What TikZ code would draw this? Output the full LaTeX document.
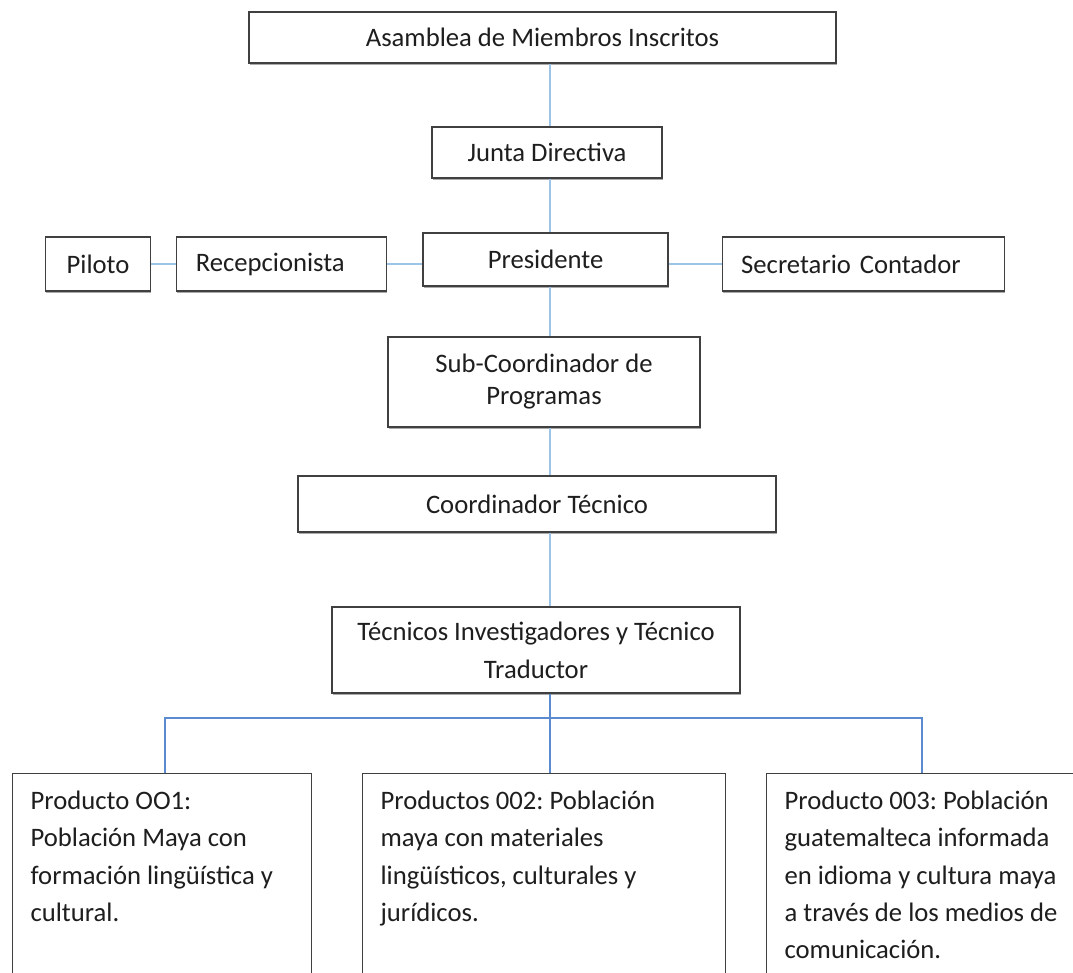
\documentclass[tikz,border=0pt]{standalone}
\usepackage{fontspec}
\setmainfont{Carlito}
\frenchspacing
\usetikzlibrary{positioning, calc, shadows}
\definecolor{clBoxBd}  {RGB}{ 64, 64, 64}
\definecolor{clText}   {RGB}{ 30, 30, 30}
\definecolor{clShadow} {RGB}{170,170,170}
\definecolor{clLink}   {RGB}{157,195,230}
\definecolor{clLinkDk} {RGB}{ 91,139,206}
\newcommand{\orgfont}{\fontsize{20}{24}\selectfont}
\newcommand{\prodfont}{\fontsize{20}{28}\selectfont}
\tikzset{
  base/.style={
    align=center, font=\orgfont, text=clText,
    draw=clBoxBd, line width=0.9pt, fill=white,
    drop shadow={shadow xshift=0.4pt, shadow yshift=-1.3pt, fill=clShadow, opacity=1}
  },
  orgbox/.style={
    base, rectangle, inner sep=0pt
  },
  sidebox/.style={
    base, rectangle, align=left, inner xsep=14.25pt, inner ysep=0pt,
    minimum height=40.5pt
  },
  prodbox/.style={
    base, rectangle, anchor=north west, align=left, font=\prodfont,
    inner xsep=13.5pt, inner ysep=13pt
  },
  link/.style={
    line width=1.1pt, color=clLink
  },
  linkdk/.style={
    line width=1.1pt, color=clLinkDk
  }
}

\begin{document}
\begin{tikzpicture}[x=0.75pt, y=-0.75pt]

    \clip (0,0) rectangle (1073,972);
    \fill[white] (0,0) rectangle (1073,972);

    % ============================================================
    % MAIN COLUMN
    % ============================================================
    \node (asamblea) [orgbox, minimum width=587*0.75pt, minimum height=51*0.75pt]
      at (542.5,37.5) {Asamblea de Miembros Inscritos};

    \node (junta) [orgbox, minimum width=230*0.75pt, minimum height=51*0.75pt]
      at (547,152.5) {Junta Directiva};

    \node (presidente) [orgbox, minimum width=245*0.75pt, minimum height=53*0.75pt]
      at (545.5,259.5) {Presidente};

    \node (subcoord) [orgbox, minimum width=312*0.75pt, minimum height=90*0.75pt]
      at (544,382) {Sub-Coordinador de\\Programas};

    \node (coordtec) [orgbox, minimum width=478*0.75pt, minimum height=56*0.75pt]
      at (537,504) {Coordinador Técnico};

    \node (tecnicos) [orgbox, minimum width=408*0.75pt, minimum height=86*0.75pt,
      font=\fontsize{20}{28.5}\selectfont]
      at (536,650) {Técnicos Investigadores y Técnico\\Traductor};

    % ============================================================
    % SIDE NODES NEXT TO PRESIDENTE
    % ============================================================
    \node (recep) [sidebox, text width=129pt, left=26.25pt of presidente, yshift=-3.4pt]
      {Recepcionista};

    \node (piloto) [orgbox, minimum width=78.75pt, minimum height=40.5pt, left=18.75pt of recep]
      {Piloto};

    \node (secret) [sidebox, text width=183pt, right=39.75pt of presidente, yshift=-3.4pt]
      {Secretario Contador};

    % ============================================================
    % PRODUCTS
    % ============================================================
    \node (prodA) [prodbox] at (12,773) {\parbox[t][200pt][t]{197.25pt}{\raggedright
      Producto OO1:\\Población Maya con\\formación lingüística y\\cultural.}};

    \node (prodB) [prodbox] at (362,773) {\parbox[t][200pt][t]{245.25pt}{\raggedright
      Productos 002: Población\\maya con materiales\\lingüísticos, culturales y\\jurídicos.}};

    \node (prodC) [prodbox] at (766,773) {\parbox[t][200pt][t]{216pt}{\raggedright
      Producto 003: Población\\guatemalteca informada\\en idioma y cultura maya\\a través de los medios de\\comunicación.}};

    % ============================================================
    % CONNECTIONS
    % ============================================================
    \coordinate (spine) at (550,0);
    \coordinate (bar)   at (550,718);
    \coordinate (dropA) at (165,718);
    \coordinate (dropC) at (922,718);

    % Vertical chain
    \draw [link] (asamblea.south -| spine) -- (junta.north -| spine);
    \draw [link] (junta.south -| spine) -- (presidente.north -| spine);
    \draw [link] (presidente.south -| spine) -- (subcoord.north -| spine);
    \draw [link] (subcoord.south -| spine) -- (coordtec.north -| spine);
    \draw [link] (coordtec.south -| spine) -- (tecnicos.north -| spine);

    % Side links
    \draw [link] (piloto.east) -- (recep.west);
    \draw [link] (recep.east) -- (recep.east -| presidente.west);
    \draw [link] (presidente.east |- secret.west) -- (secret.west);

    % Branch to products
    \draw [linkdk] (tecnicos.south -| bar) -- (bar) -- (prodB.north -| bar);
    \draw [linkdk] (prodA.north -| dropA) -- (dropA) -- (dropC) -- (prodC.north -| dropC);

\end{tikzpicture}
\end{document}
